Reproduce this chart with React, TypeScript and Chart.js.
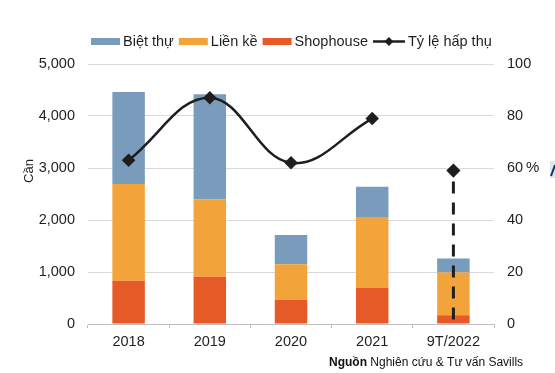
import React, { useEffect, useRef } from "react";
import { Chart, registerables } from "chart.js";

Chart.register(...registerables);

// ---- data ----
const categories = ["2018", "2019", "2020", "2021", "9T/2022"];
const bietThu = [1770, 2020, 560, 580, 270];
const lienKe = [1860, 1490, 690, 1370, 820];
const shophouse = [830, 910, 460, 690, 170];
const tyLeHapThu = [63, 87, 62, 79, null];
const tyLe2022Label = "9T/2022";
const tyLe2022 = 59;
const leftAxis = { min: 0, max: 5000, step: 1000 };
const rightAxis = { min: 0, max: 100, step: 20 };
const seriesNames = ["Biệt thự", "Liền kề", "Shophouse", "Tỷ lệ hấp thụ"];
const yTitle = "Cần";
const rightTitle = "%";
const sourceBold = "Nguồn";
const sourceText = " Nghiên cứu & Tư vấn Savills";

// ---- styles ----
const FONT = "'Liberation Sans', Arial, sans-serif";
const TXT = "#1f1f1f";
const C_BLUE = "#7a9cbc";
const C_ORANGE = "#f2a33a";
const C_RED = "#e55a27";
const C_LINE = "#1e1e1e";

const overlayPlugin = {
  id: "overlay",
  afterDraw(chart: any) {
    const ctx = chart.ctx as CanvasRenderingContext2D;
    ctx.save();
    // legend
    ctx.font = `14.5px ${FONT}`;
    ctx.textBaseline = "alphabetic";
    ctx.fillStyle = TXT;
    const colors = [C_BLUE, C_ORANGE, C_RED];
    let x = 91;
    const yMid = 41.5;
    seriesNames.forEach((name, i) => {
      const bw = i === 3 ? 32 : 29;
      if (i < 3) {
        ctx.fillStyle = colors[i];
        ctx.fillRect(x, yMid - 3.5, bw, 7);
      } else {
        ctx.strokeStyle = C_LINE;
        ctx.lineWidth = 2.5;
        ctx.beginPath();
        ctx.moveTo(x, yMid);
        ctx.lineTo(x + bw, yMid);
        ctx.stroke();
        ctx.fillStyle = C_LINE;
        const cx = x + bw / 2;
        ctx.beginPath();
        ctx.moveTo(cx, yMid - 4.5);
        ctx.lineTo(cx + 4.5, yMid);
        ctx.lineTo(cx, yMid + 4.5);
        ctx.lineTo(cx - 4.5, yMid);
        ctx.closePath();
        ctx.fill();
      }
      ctx.fillStyle = TXT;
      ctx.textAlign = "left";
      ctx.fillText(name, x + bw + 3, 46);
      x += bw + 3 + ctx.measureText(name).width + 5;
    });

    // left axis title (rotated)
    ctx.save();
    ctx.translate(29, 171);
    ctx.rotate(-Math.PI / 2);
    ctx.font = `13px ${FONT}`;
    ctx.textAlign = "center";
    ctx.textBaseline = "middle";
    ctx.fillStyle = TXT;
    ctx.fillText(yTitle, 0, 0);
    ctx.restore();

    // right axis "%" next to 60
    const y1 = chart.scales.y1;
    ctx.font = `15px ${FONT}`;
    ctx.textAlign = "left";
    ctx.textBaseline = "middle";
    ctx.fillStyle = TXT;
    ctx.fillText(rightTitle, 526, y1.getPixelForValue(60));

    // clipped element at right edge
    ctx.fillStyle = "#dde7f2";
    ctx.fillRect(550, 161, 5, 17);
    ctx.strokeStyle = "#1f2f5c";
    ctx.lineWidth = 2;
    ctx.beginPath();
    ctx.moveTo(551, 176);
    ctx.lineTo(555, 165);
    ctx.stroke();

    // source
    ctx.textBaseline = "alphabetic";
    ctx.font = `bold 12px ${FONT}`;
    ctx.fillStyle = "#111";
    const sx = 329;
    ctx.fillText(sourceBold, sx, 366);
    const bw = ctx.measureText(sourceBold).width;
    ctx.font = `12px ${FONT}`;
    ctx.fillText(sourceText, sx + bw, 366);
    ctx.restore();
  },
};

export default function App() {
  const ref = useRef<HTMLCanvasElement | null>(null);
  useEffect(() => {
    const canvas = ref.current;
    if (!canvas) return;
    const tickFont = { family: FONT, size: 14.5 };
    const chart = new Chart(canvas, {
      type: "bar",
      data: {
        labels: categories,
        datasets: [
          {
            type: "line",
            label: seriesNames[3],
            data: tyLeHapThu,
            yAxisID: "y1",
            borderColor: C_LINE,
            backgroundColor: C_LINE,
            borderWidth: 2.5,
            tension: 0.4,
            spanGaps: false,
            pointStyle: "rectRot",
            pointRadius: 5,
            pointBackgroundColor: C_LINE,
            pointBorderColor: C_LINE,
            order: 0,
          } as any,
          {
            type: "line",
            label: seriesNames[3] + " 2022",
            data: [
              { x: tyLe2022Label, y: tyLe2022 },
              { x: tyLe2022Label, y: 0 },
            ],
            yAxisID: "y1",
            borderColor: C_LINE,
            backgroundColor: C_LINE,
            borderWidth: 3,
            borderDash: [12, 9],
            borderDashOffset: 10,
            pointStyle: "rectRot",
            pointRadius: [5, 0],
            pointBackgroundColor: C_LINE,
            pointBorderColor: C_LINE,
            order: 0,
          } as any,
          {
            label: seriesNames[2],
            data: shophouse,
            backgroundColor: C_RED,
            order: 1,
          },
          {
            label: seriesNames[1],
            data: lienKe,
            backgroundColor: C_ORANGE,
            order: 1,
          },
          {
            label: seriesNames[0],
            data: bietThu,
            backgroundColor: C_BLUE,
            order: 1,
          },
        ],
      },
      options: {
        responsive: false,
        animation: false,
        devicePixelRatio: 1,
        datasets: { bar: { barPercentage: 0.4, categoryPercentage: 1 } },
        layout: { padding: { top: 64, left: 0, right: 0, bottom: 0 } },
        plugins: {
          legend: { display: false },
          tooltip: { enabled: false },
          title: { display: false },
        },
        scales: {
          x: {
            stacked: true,
            offset: true,
            grid: {
              display: true,
              drawOnChartArea: false,
              drawTicks: true,
              tickLength: 4,
              color: "#bfbfbf",
              offset: true,
            },
            border: { display: true, color: "#bfbfbf", width: 1 },
            ticks: { font: tickFont, color: TXT, padding: 5 },
            afterFit: (s: any) => {
              s.height = 49;
            },
          },
          y: {
            stacked: true,
            min: leftAxis.min,
            max: leftAxis.max,
            ticks: {
              stepSize: leftAxis.step,
              font: tickFont,
              color: TXT,
              padding: 13,
              callback: (v: any) => Number(v).toLocaleString("en-US"),
            },
            grid: { color: "#d9d9d9", drawTicks: false, lineWidth: 1 },
            border: { display: false },
            afterFit: (s: any) => {
              s.width = 88;
            },
          },
          y1: {
            position: "right",
            min: rightAxis.min,
            max: rightAxis.max,
            ticks: {
              stepSize: rightAxis.step,
              font: tickFont,
              color: TXT,
              padding: 13,
            },
            grid: { display: false, drawTicks: false },
            border: { display: false },
            afterFit: (s: any) => {
              s.width = 61;
            },
          },
        },
      } as any,
      plugins: [overlayPlugin],
    });
    return () => chart.destroy();
  }, []);
  return (
    <div style={{ position: "fixed", left: 0, top: 0, width: 555, height: 373, background: "#fff" }}>
      <canvas ref={ref} width={555} height={373} style={{ display: "block" }} />
    </div>
  );
}
